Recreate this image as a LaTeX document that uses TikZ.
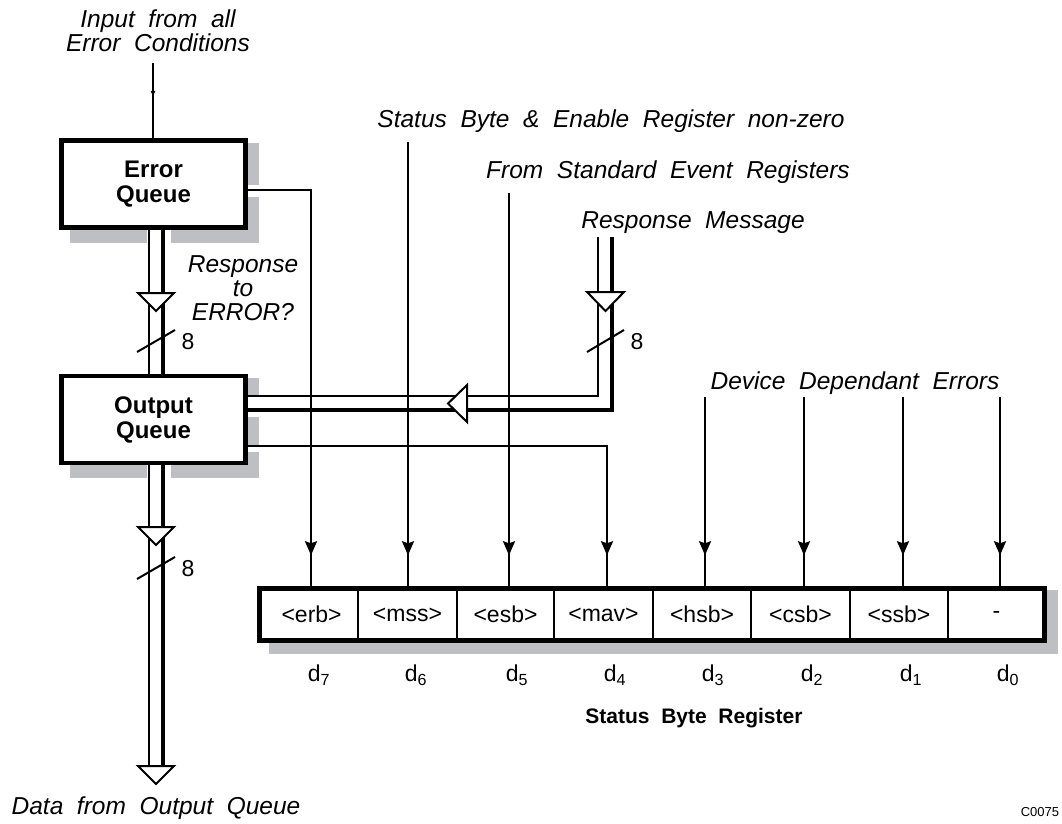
\documentclass[tikz,border=0pt]{standalone}
\usepackage{fontspec}
\setmainfont{Liberation Sans}
\newfontfamily\labfont[WordSpace=2]{Liberation Sans}
\usetikzlibrary{arrows.meta,decorations.markings}
\definecolor{shadowc}{RGB}{190,191,195}
\tikzset{
  thinline/.style={line width=2pt},
  thickline/.style={line width=4.8pt},
  qbox/.style={draw, line width=4.6pt, fill=white, minimum width=184pt, minimum height=87pt,
    inner sep=0pt, outer sep=0pt, align=center, font=\bfseries\fontsize{24}{25}\selectfont},
  lab/.style={inner sep=0pt, align=center, font=\labfont\itshape\fontsize{24.5}{24}\selectfont},
  cell/.style={draw, fill=white, line width=2pt, minimum height=52.5pt, inner sep=0pt, outer sep=0pt,
    font=\fontsize{23}{25}\selectfont},
  regbox/.style={draw, line width=4.6pt, minimum width=785.5pt, minimum height=52.5pt,
    inner sep=0pt, outer sep=0pt},
  dlab/.style={inner sep=0pt, font=\fontsize{23}{24}\selectfont},
  sig/.style={thinline, postaction={decorate}, decoration={markings,
    mark=at position -33pt with {\arrow{Stealth[length=14pt,width=12pt,inset=2pt]}}}},
  inarrow/.style={thinline, postaction={decorate}, decoration={markings,
    mark=at position 0.45 with {\arrow{Latex[length=7pt,width=5pt]}}}},
  opentri/.style={draw, fill=white, line width=2pt, line join=miter},
  shadowbox/.style={fill=shadowc},
  gap/.style={fill=white}
}
\begin{document}
\begin{tikzpicture}[x=1pt,y=-1pt]
\useasboundingbox[fill=white] (0,0) rectangle (1062,823);

% shadows
\fill[shadowbox] (70,143) rectangle (259,243);
\fill[shadowbox] (70,378) rectangle (259,478);
\fill[shadowbox] (269,590) rectangle (1058,654);
% gaps in shadows where connectors leave
\fill[gap] (248,185) rectangle (261,197);
\fill[gap] (147,229) rectangle (171,245);
\fill[gap] (247,395) rectangle (261,417);
\fill[gap] (247,445) rectangle (261,452);
\fill[gap] (147,464) rectangle (171,480);

% boxes
\node[qbox] (eq) at (153.5,184) {Error\\Queue};
\node[qbox] (oq) at (153.5,419.5) {Output\\Queue};

% register cells
\node[cell, minimum width=98.75pt] (c7) at (308.6,614.5) {\hspace*{6pt}<erb>};
\node[cell, minimum width=99pt]    (c6) at (407.5,614.5) {<mss>};
\node[cell, minimum width=97pt]    (c5) at (505.5,614.5) {<esb>};
\node[cell, minimum width=99pt]    (c4) at (603.5,614.5) {<mav>};
\node[cell, minimum width=98pt]    (c3) at (702,614.5) {<hsb>};
\node[cell, minimum width=99pt]    (c2) at (800.5,614.5) {<csb>};
\node[cell, minimum width=98pt]    (c1) at (899,614.5) {<ssb>};
\node[cell, minimum width=96.75pt] (c0) at (996.4,614.5) {-};
\node[regbox] (reg) at (652,614.5) {};

% labels
\node[lab] (tInput) at (158,31) {Input from all\\Error Conditions};
\node[lab] (tResp) at (243,288) {Response\\to\\ERROR?};
\node[lab] (tSBE) at (611,121) {Status Byte \& Enable Register non-zero};
\node[lab] (tStd) at (668,172) {From Standard Event Registers};
\node[lab] (tRM) at (693,223) {Response Message};
\node[lab] (tDev) at (855,383) {Device Dependant Errors};
\node[lab] (tData) at (156,808) {Data from Output Queue};
\node[dlab] (n8a) at (188,342) {8};
\node[dlab] (n8b) at (188,569) {8};
\node[dlab] (n8c) at (637,342) {8};
\node[dlab] (d7) at (319,675) {d\textsubscript{7}};
\node[dlab] (d6) at (416,675) {d\textsubscript{6}};
\node[dlab] (d5) at (517,675) {d\textsubscript{5}};
\node[dlab] (d4) at (615,675) {d\textsubscript{4}};
\node[dlab] (d3) at (713,675) {d\textsubscript{3}};
\node[dlab] (d2) at (812,675) {d\textsubscript{2}};
\node[dlab] (d1) at (911,675) {d\textsubscript{1}};
\node[dlab] (d0) at (1008,675) {d\textsubscript{0}};
\node[inner sep=0pt, font=\bfseries\fontsize{21}{23}\selectfont] (tSBR) at (694,718) {Status\ \ Byte\ \ Register};
\node[inner sep=0pt, font=\fontsize{13}{15}\selectfont] (tCode) at (1040,812) {C0075};

% coordinates
\coordinate (inTop) at (153,63);
\coordinate (bl) at (149,0);
\coordinate (br) at (163,0);
\coordinate (outEnd) at (156,766);
\coordinate (rmL) at (598,237);
\coordinate (rmR) at (612,237);
\coordinate (yT) at (0,396);
\coordinate (yB) at (0,410);
\coordinate (erbx) at (311,190);
\coordinate (mssTop) at (408,142);
\coordinate (esbTop) at (509,193);
\coordinate (mavx) at (607,446);
\coordinate (hsbTop) at (705,397);
\coordinate (csbTop) at (804,397);
\coordinate (ssbTop) at (903,397);
\coordinate (dzTop) at (1000,397);

% input
\draw[inarrow] (inTop) -- (eq.north -| inTop);

% buses
\draw[thinline] (eq.south -| bl) -- (oq.north -| bl);
\draw[thickline] (eq.south -| br) -- (oq.north -| br);
\draw[thinline] (oq.south -| bl) -- (outEnd -| bl);
\draw[thickline] (oq.south -| br) -- (outEnd -| br);
\draw[thinline] (rmL) |- (oq.east |- yT);
\draw[thickline] (rmR) |- (oq.east |- yB);

% signal lines into the register
\draw[sig] (eq.east |- erbx) -| (erbx |- reg.north);
\draw[sig] (mssTop) -- (mssTop |- reg.north);
\draw[sig] (esbTop) -- (esbTop |- reg.north);
\draw[sig] (oq.east |- mavx) -| (mavx |- reg.north);
\draw[sig] (hsbTop) -- (hsbTop |- reg.north);
\draw[sig] (csbTop) -- (csbTop |- reg.north);
\draw[sig] (ssbTop) -- (ssbTop |- reg.north);
\draw[sig] (dzTop) -- (dzTop |- reg.north);

% open bus arrowheads
\draw[opentri] (138,293) -- (174,293) -- (156,311) -- cycle;
\draw[opentri] (138,527) -- (174,527) -- (156,545) -- cycle;
\draw[opentri] (138,766) -- (174,766) -- (156,784) -- cycle;
\draw[opentri] (587,292) -- (624,292) -- (605.5,311) -- cycle;
\draw[opentri] (467,385) -- (467,422) -- (448,403.5) -- cycle;

% bus width slashes
\draw[thinline] (137,352) -- (175,330);
\draw[thinline] (137,579) -- (175,557);
\draw[thinline] (587,352) -- (624,330);
\end{tikzpicture}
\end{document}
